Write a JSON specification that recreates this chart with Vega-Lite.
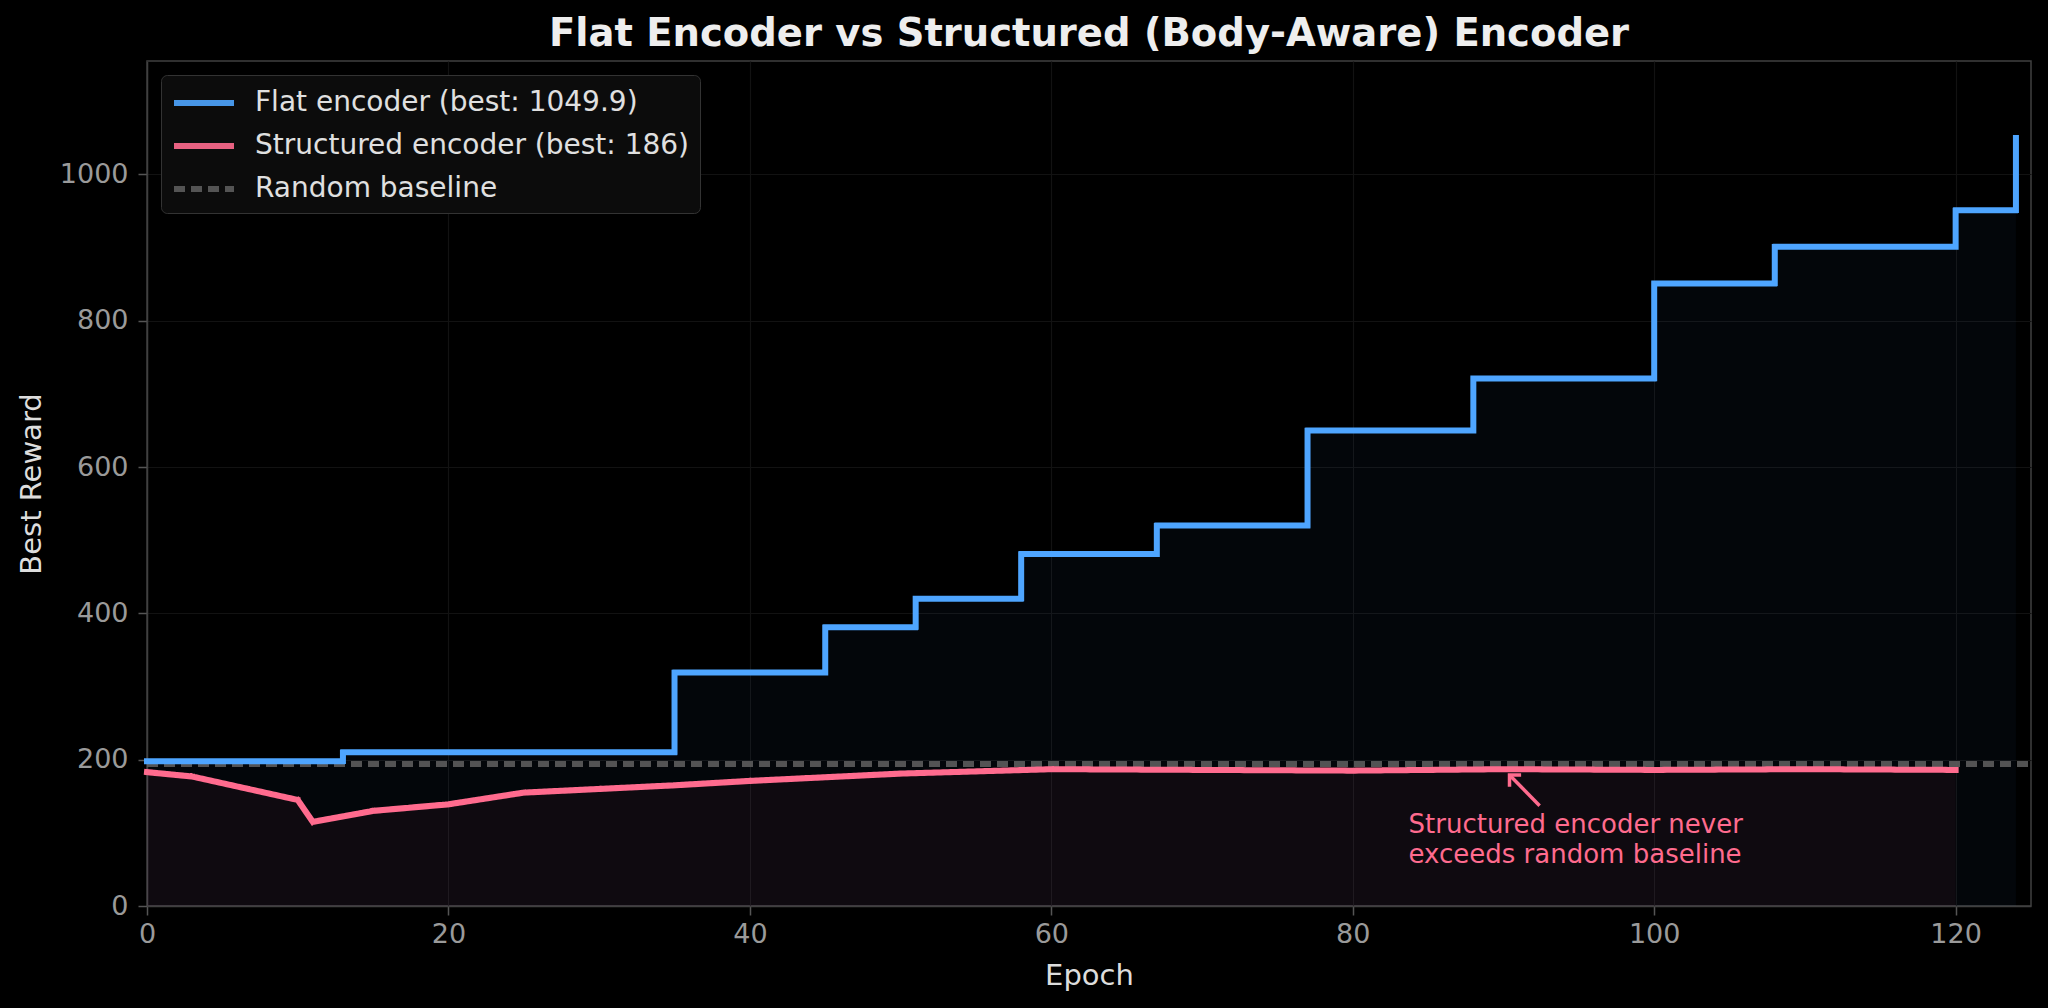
{
  "$schema": "https://vega.github.io/schema/vega-lite/v6.json",
  "width": 1884,
  "height": 845,
  "autosize": {"type": "none"},
  "padding": {"left": 147, "top": 61, "right": 17, "bottom": 102},
  "background": "#000000",
  "title": {
    "text": "Flat Encoder vs Structured (Body-Aware) Encoder",
    "font": "DejaVu Sans",
    "fontSize": 38.5,
    "fontWeight": "bold",
    "color": "#eeeeee",
    "anchor": "middle",
    "baseline": "bottom",
    "offset": -31
  },
  "datasets": {
    "flat": [
      {"epoch": 0, "reward": 198, "series": "Flat encoder (best: 1049.9)"},
      {"epoch": 13, "reward": 210, "series": "Flat encoder (best: 1049.9)"},
      {"epoch": 35, "reward": 319, "series": "Flat encoder (best: 1049.9)"},
      {"epoch": 45, "reward": 381, "series": "Flat encoder (best: 1049.9)"},
      {"epoch": 51, "reward": 420, "series": "Flat encoder (best: 1049.9)"},
      {"epoch": 58, "reward": 481, "series": "Flat encoder (best: 1049.9)"},
      {"epoch": 67, "reward": 520, "series": "Flat encoder (best: 1049.9)"},
      {"epoch": 77, "reward": 650, "series": "Flat encoder (best: 1049.9)"},
      {"epoch": 88, "reward": 721, "series": "Flat encoder (best: 1049.9)"},
      {"epoch": 100, "reward": 851, "series": "Flat encoder (best: 1049.9)"},
      {"epoch": 108, "reward": 901, "series": "Flat encoder (best: 1049.9)"},
      {"epoch": 120, "reward": 951, "series": "Flat encoder (best: 1049.9)"},
      {"epoch": 124, "reward": 1049.9, "series": "Flat encoder (best: 1049.9)"}
    ],
    "structured": [
      {"epoch": 0, "reward": 183, "series": "Structured encoder (best: 186)"},
      {"epoch": 3, "reward": 177, "series": "Structured encoder (best: 186)"},
      {"epoch": 10, "reward": 145, "series": "Structured encoder (best: 186)"},
      {"epoch": 11, "reward": 115, "series": "Structured encoder (best: 186)"},
      {"epoch": 15, "reward": 130, "series": "Structured encoder (best: 186)"},
      {"epoch": 20, "reward": 139, "series": "Structured encoder (best: 186)"},
      {"epoch": 25, "reward": 155, "series": "Structured encoder (best: 186)"},
      {"epoch": 30, "reward": 160, "series": "Structured encoder (best: 186)"},
      {"epoch": 35, "reward": 165, "series": "Structured encoder (best: 186)"},
      {"epoch": 40, "reward": 171, "series": "Structured encoder (best: 186)"},
      {"epoch": 45, "reward": 176, "series": "Structured encoder (best: 186)"},
      {"epoch": 50, "reward": 181, "series": "Structured encoder (best: 186)"},
      {"epoch": 55, "reward": 184, "series": "Structured encoder (best: 186)"},
      {"epoch": 60, "reward": 187, "series": "Structured encoder (best: 186)"},
      {"epoch": 70, "reward": 186, "series": "Structured encoder (best: 186)"},
      {"epoch": 80, "reward": 185, "series": "Structured encoder (best: 186)"},
      {"epoch": 90, "reward": 187, "series": "Structured encoder (best: 186)"},
      {"epoch": 100, "reward": 186, "series": "Structured encoder (best: 186)"},
      {"epoch": 110, "reward": 187, "series": "Structured encoder (best: 186)"},
      {"epoch": 120, "reward": 186, "series": "Structured encoder (best: 186)"}
    ],
    "baseline": [
      {"epoch": 0, "reward": 194, "series": "Random baseline"},
      {"epoch": 125, "reward": 194, "series": "Random baseline"}
    ],
    "note": [
      {"epoch": 83.7, "reward": 111, "label": "Structured encoder never\nexceeds random baseline"}
    ],
    "arrow": [
      {"epoch": 92.4, "reward": 137, "epoch2": 90.4, "reward2": 179}
    ]
  },
  "encoding": {
    "x": {
      "field": "epoch",
      "type": "quantitative",
      "scale": {"domain": [0, 125], "nice": false, "zero": false},
      "axis": {"title": "Epoch", "values": [0, 20, 40, 60, 80, 100, 120], "format": "d"}
    },
    "y": {
      "field": "reward",
      "type": "quantitative",
      "scale": {"domain": [0, 1155], "nice": false},
      "axis": {"title": "Best Reward", "values": [0, 200, 400, 600, 800, 1000], "format": "d"}
    }
  },
  "layer": [
    {
      "data": {"name": "flat"},
      "mark": {"type": "area", "interpolate": "step-after", "color": "#4ea5ff", "opacity": 0.04}
    },
    {
      "data": {"name": "structured"},
      "mark": {"type": "area", "color": "#ff6b8e", "opacity": 0.05}
    },
    {
      "data": {"name": "baseline"},
      "mark": {"type": "line", "opacity": 0.9},
      "encoding": {
        "color": {"field": "series", "type": "nominal", "scale": {"domain": ["Flat encoder (best: 1049.9)", "Structured encoder (best: 186)", "Random baseline"], "range": ["#4ea5ff", "#ff6b8e", "#5c5c5c"]}, "legend": {"title": null}},
        "strokeDash": {"field": "series", "type": "nominal", "scale": {"domain": ["Flat encoder (best: 1049.9)", "Structured encoder (best: 186)", "Random baseline"], "range": [[1, 0], [1, 0], [11, 6]]}, "legend": {"title": null}},
        "strokeWidth": {"field": "series", "type": "nominal", "scale": {"domain": ["Flat encoder (best: 1049.9)", "Structured encoder (best: 186)", "Random baseline"], "range": [6, 6, 2.6]}, "legend": {"title": null}}
      }
    },
    {
      "data": {"name": "flat"},
      "mark": {"type": "line", "interpolate": "step-after", "strokeCap": "square", "strokeJoin": "round"},
      "encoding": {
        "color": {"field": "series", "type": "nominal"},
        "strokeDash": {"field": "series", "type": "nominal"},
        "strokeWidth": {"field": "series", "type": "nominal"}
      }
    },
    {
      "data": {"name": "structured"},
      "mark": {"type": "line", "strokeCap": "square", "strokeJoin": "round"},
      "encoding": {
        "color": {"field": "series", "type": "nominal"},
        "strokeDash": {"field": "series", "type": "nominal"},
        "strokeWidth": {"field": "series", "type": "nominal"}
      }
    },
    {
      "data": {"name": "arrow"},
      "mark": {"type": "rule", "color": "#ff6b8e", "strokeWidth": 3.5},
      "encoding": {
        "x2": {"field": "epoch2"},
        "y2": {"field": "reward2"}
      }
    },
    {
      "data": {"name": "arrow"},
      "mark": {"type": "point", "shape": "M-0.7,0.7L0,0L0.7,0.7", "filled": false, "color": "#ff6b8e", "strokeWidth": 3.5, "size": 550, "angle": -45, "opacity": 1},
      "encoding": {
        "x": {"field": "epoch2", "type": "quantitative"},
        "y": {"field": "reward2", "type": "quantitative"}
      }
    },
    {
      "data": {"name": "note"},
      "mark": {"type": "text", "align": "left", "baseline": "middle", "lineBreak": "\n", "lineHeight": 30, "font": "DejaVu Sans", "fontSize": 26, "color": "#ff6b8e"},
      "encoding": {"text": {"field": "label"}}
    }
  ],
  "config": {
    "font": "DejaVu Sans",
    "view": {"stroke": "#404040", "strokeWidth": 1.5},
    "axis": {
      "domainColor": "#404040",
      "domainWidth": 1.5,
      "tickColor": "#555555",
      "tickSize": 9,
      "tickWidth": 1.5,
      "labelColor": "#9a9a9a",
      "labelFont": "DejaVu Sans",
      "labelFontSize": 27,
      "labelFlush": false,
      "titleColor": "#dddddd",
      "titleFont": "DejaVu Sans",
      "titleFontSize": 29,
      "titleFontWeight": "normal",
      "gridColor": "#121212",
      "gridWidth": 1.2
    },
    "axisX": {"labelPadding": 6, "titlePadding": 14},
    "axisY": {"labelPadding": 10, "titlePadding": 13},
    "legend": {
      "orient": "top-left",
      "offset": 14,
      "padding": 10,
      "fillColor": "#0c0c0c",
      "strokeColor": "#333333",
      "cornerRadius": 6,
      "labelFont": "DejaVu Sans",
      "labelFontSize": 28,
      "labelColor": "#e0e0e0",
      "labelOffset": 48,
      "symbolType": "M-1,0L3,0",
      "symbolSize": 900,
      "rowPadding": 11,
      "labelLimit": 1000
    }
  }
}
